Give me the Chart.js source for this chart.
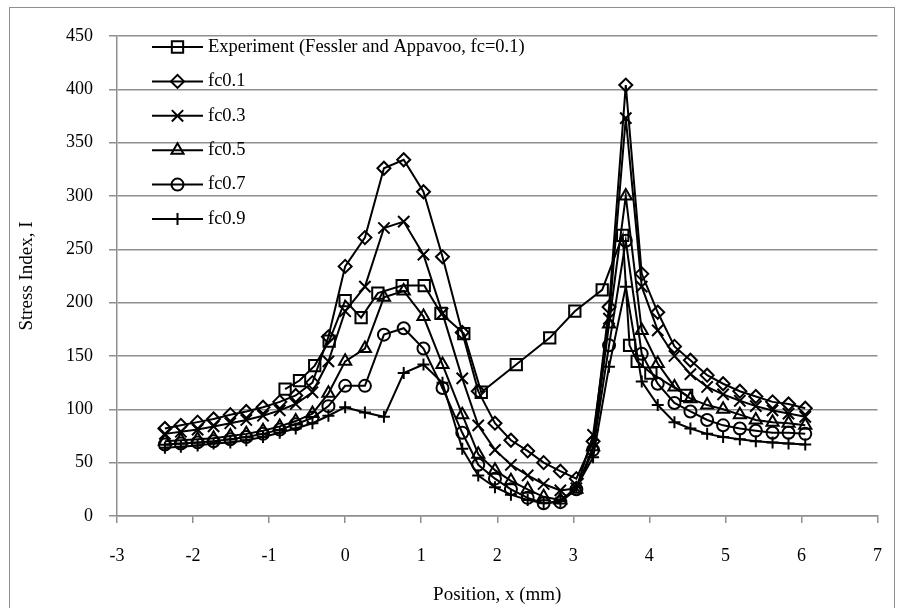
<!DOCTYPE html>
<html>
<head>
<meta charset="utf-8">
<script src="https://cdn.jsdelivr.net/npm/chart.js@4.4.1/dist/chart.umd.min.js"></script>
<style>
  html, body { margin: 0; padding: 0; background: #fff; }
  #wrap { width: 904px; height: 608px; }
</style>
</head>
<body>
<div id="wrap">
  <canvas id="stressChart" width="904" height="608"></canvas>
</div>
<script>
// node positions shared by the simulated curves (mm)
const positions = [-2.37, -2.16, -1.94, -1.73, -1.51, -1.30, -1.08, -0.86, -0.65, -0.43, -0.22, 0.00,
  0.26, 0.51, 0.77, 1.03, 1.28, 1.54,
  1.75, 1.97, 2.18, 2.40, 2.61, 2.83, 3.04, 3.26, 3.47, 3.69, 3.90, 4.11, 4.33, 4.54, 4.76, 4.97, 5.19, 5.40, 5.62, 5.83, 6.05];

const fc01 = [82, 85, 88, 91, 95, 98, 102, 107, 113, 125, 168, 234,
  261, 326, 334, 304, 243, 172,
  117, 87, 71, 61, 50, 42, 35, 70, 196, 404, 227, 191, 159, 146, 132, 124, 117, 112, 107, 105, 101];
const fc03 = [77, 79, 81, 84, 87, 90, 94, 99, 105, 116, 145, 192,
  215, 270, 276, 245, 190, 129,
  85, 62, 48, 38, 30, 24, 26, 76, 185, 373, 215, 174, 150, 133, 121, 114, 108, 103, 99, 96, 93];
const fc05 = [70, 71, 72, 73, 75, 77, 80, 84, 89, 96, 115, 145,
  157, 205, 211, 187, 142, 95,
  58, 43, 33, 25, 18, 15, 25, 65, 180, 300, 174, 143, 121, 110, 104, 100, 95, 90, 88, 87, 85];
const fc07 = [67, 68, 69, 70, 72, 74, 77, 81, 86, 92, 103, 122,
  122, 170, 176, 157, 120, 78,
  48, 35, 25, 17, 12, 13, 25, 62, 160, 258, 152, 124, 106, 98, 90, 85, 82, 80, 78, 78, 77];
const fc09 = [64, 65, 66, 68, 69, 71, 74, 78, 82, 87, 94, 102,
  97, 93, 134, 142, 125, 63,
  38, 27, 20, 15, 12, 14, 27, 55, 140, 215, 126, 104, 88, 82, 77, 74, 72, 70, 69, 68, 67];

// measured points (Fessler and Appavoo)
const expPositions = [-0.79, -0.60, -0.40, -0.21, 0.00, 0.21, 0.43, 0.75, 1.04, 1.26, 1.56, 1.79,
  2.25, 2.69, 3.02, 3.38, 3.65, 3.74, 3.84, 4.02, 4.49];
const expValues = [119, 127, 141, 164, 202, 186, 209, 216, 216, 190, 171, 116,
  142, 167, 192, 212, 263, 160, 145, 134, 113];

const seriesLabels = ['Experiment (Fessler and Appavoo, fc=0.1)', 'fc0.1', 'fc0.3', 'fc0.5', 'fc0.7', 'fc0.9'];
const xTicks = [-3, -2, -1, 0, 1, 2, 3, 4, 5, 6, 7];

const serif = '"Liberation Serif", "Times New Roman", serif';
const gridGray = '#8f8f8f';

function pts(xs, ys) {
    return xs.map((x, i) => ({ x: x, y: ys[i] }));
}

function series(label, xs, ys, style, r) {
    return {
        label: label,
        data: pts(xs, ys),
        borderColor: '#000',
        borderWidth: 2,
        pointStyle: style,
        pointRadius: r,
        pointHoverRadius: r,
        pointBorderColor: '#000',
        pointBackgroundColor: 'rgba(0,0,0,0)',
        pointBorderWidth: 2,
        tension: 0,
        fill: false
    };
}

// Excel style outer frame
const framePlugin = {
    id: 'frame',
    beforeDraw(chart) {
        const ctx = chart.ctx;
        ctx.save();
        ctx.fillStyle = '#fff';
        ctx.fillRect(0, 0, chart.width, chart.height);
        ctx.strokeStyle = gridGray;
        ctx.lineWidth = 1;
        ctx.strokeRect(9.5, 7.5, 885, 620);
        ctx.restore();
    }
};

// legend inside the plot, line + marker like Excel
const insideLegend = {
    id: 'insideLegend',
    afterDraw(chart) {
        const ctx = chart.ctx;
        ctx.save();
        chart.data.datasets.forEach((ds, i) => {
            const y = 47 + i * 34.4;
            ctx.strokeStyle = '#000';
            ctx.lineWidth = 2;
            ctx.beginPath();
            ctx.moveTo(152, y);
            ctx.lineTo(203, y);
            ctx.stroke();
            ctx.fillStyle = 'rgba(0,0,0,0)';
            Chart.helpers.drawPoint(ctx, {
                pointStyle: ds.pointStyle,
                radius: ds.pointRadius,
                rotation: 0,
                borderWidth: 2
            }, 177.5, y);
            ctx.fillStyle = '#000';
            ctx.font = '18.5px ' + serif;
            ctx.textAlign = 'left';
            ctx.textBaseline = 'middle';
            ctx.fillText(ds.label, 208, y);
        });
        ctx.restore();
    }
};

const ctx = document.getElementById('stressChart');

new Chart(ctx, {
    type: 'line',
    data: {
        datasets: [
            series(seriesLabels[0], expPositions, expValues, 'rect', 8),
            series(seriesLabels[1], positions, fc01, 'rectRot', 6.5),
            series(seriesLabels[2], positions, fc03, 'crossRot', 8),
            series(seriesLabels[3], positions, fc05, 'triangle', 7),
            series(seriesLabels[4], positions, fc07, 'circle', 6),
            series(seriesLabels[5], positions, fc09, 'cross', 6)
        ]
    },
    options: {
        responsive: false,
        animation: false,
        events: [],
        layout: { padding: { left: 0, top: 36, right: 14, bottom: 0 } },
        plugins: {
            legend: { display: false },
            tooltip: { enabled: false }
        },
        scales: {
            x: {
                type: 'linear',
                min: -3,
                max: 7,
                afterBuildTicks: s => { s.ticks = xTicks.map(v => ({ value: v })); },
                afterFit: s => { s.height = 92; },
                ticks: {
                    color: '#000',
                    font: { family: serif, size: 18 },
                    padding: 22
                },
                grid: {
                    drawOnChartArea: false,
                    drawTicks: true,
                    tickLength: 7,
                    color: gridGray,
                    lineWidth: 1.5
                },
                border: { color: gridGray, width: 1.5 },
                title: {
                    display: true,
                    text: 'Position, x (mm)',
                    color: '#000',
                    font: { family: serif, size: 19 },
                    padding: { top: 0, bottom: 2 }
                }
            },
            y: {
                min: 0,
                max: 450,
                afterFit: s => { s.width = 117; },
                ticks: {
                    stepSize: 50,
                    color: '#000',
                    font: { family: serif, size: 18 },
                    padding: 16
                },
                grid: {
                    color: gridGray,
                    lineWidth: 1.5,
                    tickLength: 8
                },
                border: { color: gridGray, width: 1.5 },
                title: {
                    display: true,
                    text: 'Stress Index, I',
                    color: '#000',
                    font: { family: serif, size: 19 },
                    padding: { top: 16, bottom: 0 }
                }
            }
        }
    },
    plugins: [framePlugin, insideLegend]
});
</script>
</body>
</html>
